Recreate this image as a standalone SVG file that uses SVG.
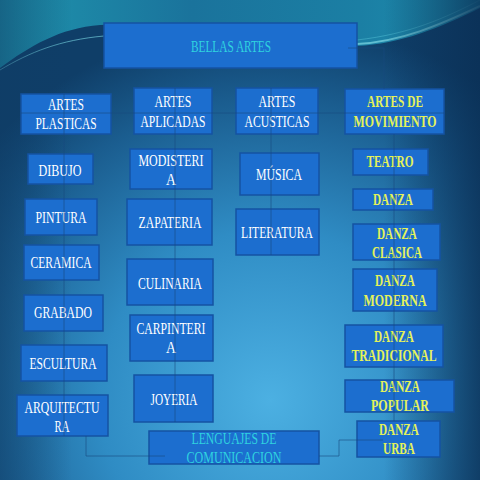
<svg xmlns="http://www.w3.org/2000/svg" width="480" height="480" viewBox="0 0 480 480">
<defs>
<radialGradient id="bg" cx="270" cy="400" r="380" gradientUnits="userSpaceOnUse">
<stop offset="0" stop-color="#4cb0e2"/>
<stop offset="0.45" stop-color="#2f8cc4"/>
<stop offset="0.8" stop-color="#1a5c8e"/>
<stop offset="1" stop-color="#0f3e68"/>
</radialGradient>
<linearGradient id="edge" x1="0" y1="0" x2="1" y2="0">
<stop offset="0" stop-color="#0f3d66" stop-opacity="0.55"/>
<stop offset="0.15" stop-color="#0f3d66" stop-opacity="0"/>
<stop offset="0.8" stop-color="#0a2f55" stop-opacity="0"/>
<stop offset="1" stop-color="#0a2f55" stop-opacity="0.8"/>
</linearGradient>
<linearGradient id="teal" x1="0" y1="0" x2="1" y2="0">
<stop offset="0" stop-color="#1f94ad"/>
<stop offset="0.4" stop-color="#1a739c"/>
<stop offset="0.75" stop-color="#1b7fa4"/>
<stop offset="1" stop-color="#1e90b0"/>
</linearGradient>
<style>
.box{fill:#1c6ecf;stroke:#1553a3;stroke-width:1.5}
.t{font-family:"Liberation Serif",serif;font-size:17px;fill:#ffffff;text-anchor:middle}
.y{fill:#e4f25a;font-weight:bold}
.c{fill:#2fd3df}
.con{fill:none;stroke:#174a80;stroke-width:1;stroke-opacity:0.6}
</style>
</defs>
<rect width="480" height="480" fill="url(#bg)"/>
<path d="M0,0 H480 V8 C440,28 400,44 357,46 C250,40 160,22 100,25 C60,28 30,46 0,68 Z" fill="url(#teal)"/>
<path d="M0,70 C30,52 60,40 104,36" fill="none" stroke="#7fe0ea" stroke-width="1" stroke-opacity="0.6"/>
<path d="M357,44 C400,42 440,25 480,6" fill="none" stroke="#8fe8f0" stroke-width="2" stroke-opacity="0.6"/>
<path d="M357,40 C410,34 445,18 480,0" fill="none" stroke="#5fd0e0" stroke-width="1" stroke-opacity="0.4"/>
<rect width="480" height="480" fill="url(#edge)"/>

<g id="bellas-artes"><rect class="box" x="104" y="23" width="253" height="45"/><text class="t c" x="231" y="52" textLength="80" lengthAdjust="spacingAndGlyphs">BELLAS ARTES</text></g>

<g id="artes-plasticas"><rect class="box" x="21" y="94" width="90" height="40"/><text class="t" x="66" y="110" textLength="36" lengthAdjust="spacingAndGlyphs">ARTES</text><text class="t" x="66" y="129" textLength="61" lengthAdjust="spacingAndGlyphs">PLASTICAS</text></g>
<g id="artes-aplicadas"><rect class="box" x="134" y="88" width="78" height="46"/><text class="t" x="173" y="107" textLength="37" lengthAdjust="spacingAndGlyphs">ARTES</text><text class="t" x="173" y="127" textLength="65" lengthAdjust="spacingAndGlyphs">APLICADAS</text></g>
<g id="artes-acusticas"><rect class="box" x="236" y="88" width="82" height="46"/><text class="t" x="277" y="107" textLength="37" lengthAdjust="spacingAndGlyphs">ARTES</text><text class="t" x="277" y="127" textLength="65" lengthAdjust="spacingAndGlyphs">ACUSTICAS</text></g>
<g id="artes-movimiento"><rect class="box" x="345" y="89" width="99" height="45"/><text class="t y" x="395" y="107" textLength="56" lengthAdjust="spacingAndGlyphs">ARTES DE</text><text class="t y" x="395" y="127" textLength="83" lengthAdjust="spacingAndGlyphs">MOVIMIENTO</text></g>

<g id="dibujo"><rect class="box" x="28" y="154" width="65" height="30"/><text class="t" x="60" y="176" textLength="43" lengthAdjust="spacingAndGlyphs">DIBUJO</text></g>
<g id="pintura"><rect class="box" x="25" y="199" width="72" height="36"/><text class="t" x="61" y="223" textLength="51" lengthAdjust="spacingAndGlyphs">PINTURA</text></g>
<g id="ceramica"><rect class="box" x="24" y="245" width="75" height="35"/><text class="t" x="61" y="268" textLength="61" lengthAdjust="spacingAndGlyphs">CERAMICA</text></g>
<g id="grabado"><rect class="box" x="24" y="295" width="79" height="36"/><text class="t" x="63" y="318" textLength="58" lengthAdjust="spacingAndGlyphs">GRABADO</text></g>
<g id="escultura"><rect class="box" x="21" y="345" width="86" height="36"/><text class="t" x="63" y="369" textLength="67" lengthAdjust="spacingAndGlyphs">ESCULTURA</text></g>
<g id="arquitectura"><rect class="box" x="17" y="395" width="91" height="41"/><text class="t" x="62" y="413" textLength="75" lengthAdjust="spacingAndGlyphs">ARQUITECTU</text><text class="t" x="62" y="432" textLength="15" lengthAdjust="spacingAndGlyphs">RA</text></g>

<g id="modisteria"><rect class="box" x="130" y="149" width="82" height="40"/><text class="t" x="171" y="166" textLength="65" lengthAdjust="spacingAndGlyphs">MODISTERI</text><text class="t" x="171" y="185" textLength="10" lengthAdjust="spacingAndGlyphs">A</text></g>
<g id="zapateria"><rect class="box" x="127" y="199" width="85" height="46"/><text class="t" x="170" y="228" textLength="63" lengthAdjust="spacingAndGlyphs">ZAPATERIA</text></g>
<g id="culinaria"><rect class="box" x="127" y="259" width="86" height="46"/><text class="t" x="170" y="289" textLength="64" lengthAdjust="spacingAndGlyphs">CULINARIA</text></g>
<g id="carpinteria"><rect class="box" x="130" y="315" width="83" height="46"/><text class="t" x="171" y="334" textLength="69" lengthAdjust="spacingAndGlyphs">CARPINTERI</text><text class="t" x="171" y="353" textLength="10" lengthAdjust="spacingAndGlyphs">A</text></g>
<g id="joyeria"><rect class="box" x="134" y="375" width="79" height="47"/><text class="t" x="174" y="405" textLength="47" lengthAdjust="spacingAndGlyphs">JOYERIA</text></g>

<g id="musica"><rect class="box" x="240" y="153" width="79" height="42"/><text class="t" x="279" y="180" textLength="46" lengthAdjust="spacingAndGlyphs">MÚSICA</text></g>
<g id="literatura"><rect class="box" x="236" y="209" width="83" height="46"/><text class="t" x="277" y="238" textLength="72" lengthAdjust="spacingAndGlyphs">LITERATURA</text></g>

<g id="teatro"><rect class="box" x="353" y="149" width="75" height="26"/><text class="t y" x="390" y="167" textLength="47" lengthAdjust="spacingAndGlyphs">TEATRO</text></g>
<g id="danza"><rect class="box" x="353" y="189" width="80" height="21"/><text class="t y" x="393" y="205" textLength="40" lengthAdjust="spacingAndGlyphs">DANZA</text></g>
<g id="danza-clasica"><rect class="box" x="353" y="224" width="87" height="36"/><text class="t y" x="397" y="239" textLength="40" lengthAdjust="spacingAndGlyphs">DANZA</text><text class="t y" x="397" y="258" textLength="50" lengthAdjust="spacingAndGlyphs">CLASICA</text></g>
<g id="danza-moderna"><rect class="box" x="353" y="269" width="84" height="42"/><text class="t y" x="395" y="286" textLength="40" lengthAdjust="spacingAndGlyphs">DANZA</text><text class="t y" x="395" y="306" textLength="63" lengthAdjust="spacingAndGlyphs">MODERNA</text></g>
<g id="danza-tradicional"><rect class="box" x="345" y="325" width="98" height="42"/><text class="t y" x="394" y="342" textLength="40" lengthAdjust="spacingAndGlyphs">DANZA</text><text class="t y" x="394" y="361" textLength="85" lengthAdjust="spacingAndGlyphs">TRADICIONAL</text></g>
<g id="danza-popular"><rect class="box" x="345" y="380" width="109" height="32"/><text class="t y" x="400" y="392" textLength="40" lengthAdjust="spacingAndGlyphs">DANZA</text><text class="t y" x="400" y="411" textLength="58" lengthAdjust="spacingAndGlyphs">POPULAR</text></g>
<g id="danza-urba"><rect class="box" x="357" y="421" width="83" height="36"/><text class="t y" x="399" y="435" textLength="40" lengthAdjust="spacingAndGlyphs">DANZA</text><text class="t y" x="399" y="454" textLength="32" lengthAdjust="spacingAndGlyphs">URBA</text></g>

<g id="lenguajes"><rect class="box" x="149" y="431" width="170" height="33"/><text class="t c" x="234" y="444" textLength="85" lengthAdjust="spacingAndGlyphs">LENGUAJES DE</text><text class="t c" x="234" y="463" textLength="95" lengthAdjust="spacingAndGlyphs">COMUNICACION</text></g>

<g id="connectors">
<path class="con" d="M348,48 H384 V89"/>
<path class="con" d="M21,113 H444"/>
<path class="con" d="M64,94 V436"/>
<path class="con" d="M175,88 V422"/>
<path class="con" d="M271,88 V255"/>
<path class="con" d="M394,134 V421"/>
<path class="con" d="M86,436 V456 H165"/>
<path class="con" d="M319,456 H339 V440 H383"/>
</g>
</svg>
